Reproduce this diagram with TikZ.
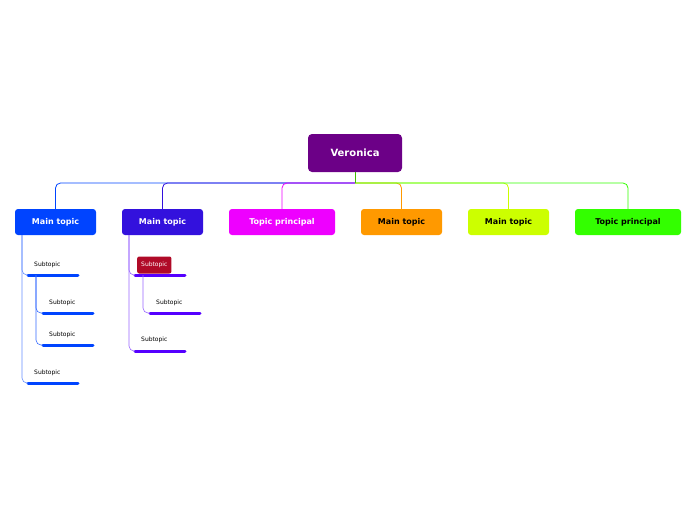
\documentclass[tikz,border=0pt]{standalone}
\usepackage{fontspec}
\setmainfont{DejaVu Sans}
\usepackage{tikz}
\usetikzlibrary{positioning}
\definecolor{rootc}{HTML}{6C0087}
\definecolor{tA}{HTML}{0044FF}
\definecolor{tB}{HTML}{3311DD}
\definecolor{tBs}{HTML}{5500FF}
\definecolor{tC}{HTML}{EE00FF}
\definecolor{tD}{HTML}{FF9900}
\definecolor{tE}{HTML}{CCFF00}
\definecolor{tF}{HTML}{33FF00}
\definecolor{subred}{HTML}{B00A28}
\begin{document}
\begin{tikzpicture}[x=1pt,y=-1pt]
\tikzset{
  topic/.style={rounded corners=3pt, minimum height=26pt, inner xsep=8pt, font=\bfseries\fontsize{8}{9}\selectfont},
  subtxt/.style={anchor=west, inner sep=1pt, font=\fontsize{6}{7}\selectfont},
  bar/.style={line width=3pt, line cap=round},
  link/.style={rounded corners=5pt, line width=0.8pt}
}
\useasboundingbox (0,0) rectangle (696,520);
\node[fill=rootc, text=white, rounded corners=4pt, minimum width=94pt, minimum height=38pt,
  font=\bfseries\fontsize{10}{12}\selectfont] (root) at (355,153) {Veronica};
\node[topic, fill=tA, text=white, minimum width=81pt] (t1) at (55.5,222) {Main topic};
\node[topic, fill=tB, text=white, minimum width=81pt] (t2) at (162.5,222) {Main topic};
\node[topic, fill=tC, text=white, minimum width=106pt] (t3) at (282,222) {Topic principal};
\node[topic, fill=tD, minimum width=81pt] (t4) at (401.5,222) {Main topic};
\node[topic, fill=tE, minimum width=81pt] (t5) at (508.5,222) {Main topic};
\node[topic, fill=tF, minimum width=106pt] (t6) at (628,222) {Topic principal};
% connectors from the root
\coordinate (hub) at (355,183);
\draw[link, tA] (hub) -| (t1.north);
\draw[link, tB] (hub) -| (t2.north);
\draw[link, tC] (hub) -| (t3.north);
\draw[link, tD] (hub) -| (t4.north);
\draw[link, tE] (hub) -| (t5.north);
\draw[link, tF] (hub) -| (t6.north);
\draw[link, green!50!olive] (root.south) -- (hub);
% subtopics of the first topic
\node[subtxt] (a1) at (33,265) {Subtopic};
\node[subtxt] (a11) at (48,303) {Subtopic};
\node[subtxt] (a12) at (48,335) {Subtopic};
\node[subtxt] (a2) at (33,373) {Subtopic};
\draw[bar, tA] (28,275) coordinate (a1b) -- (78,275);
\draw[bar, tA] (43,313) coordinate (a11b) -- (93,313);
\draw[bar, tA] (43,345) coordinate (a12b) -- (93,345);
\draw[bar, tA] (28,383) coordinate (a2b) -- (78,383);
\coordinate (t1s) at (22,235);
\coordinate (a1s) at (36,275);
\draw[link, tA!60, line width=0.6pt] (t1s) |- (a1b);
\draw[link, tA!60, line width=0.6pt] (t1s) |- (a2b);
\draw[link, tA!80, line width=0.6pt] (a1s) |- (a11b);
\draw[link, tA!80, line width=0.6pt] (a1s) |- (a12b);
% subtopics of the second topic
\node[subtxt, fill=subred, text=white, rounded corners=2pt, minimum height=17pt, inner xsep=4pt] (b1) at (137,265) {Subtopic};
\node[subtxt] (b11) at (155,303) {Subtopic};
\node[subtxt] (b2) at (140,340) {Subtopic};
\draw[bar, tBs] (135,275) coordinate (b1b) -- (185,275);
\draw[bar, tBs] (150,313) coordinate (b11b) -- (200,313);
\draw[bar, tBs] (135,351) coordinate (b2b) -- (185,351);
\coordinate (t2s) at (129,235);
\coordinate (b1s) at (143,275);
\draw[link, tBs!60, line width=0.6pt] (t2s) |- (b1b);
\draw[link, tBs!60, line width=0.6pt] (t2s) |- (b2b);
\draw[link, tBs!60, line width=0.6pt] (b1s) |- (b11b);
\end{tikzpicture}
\end{document}
